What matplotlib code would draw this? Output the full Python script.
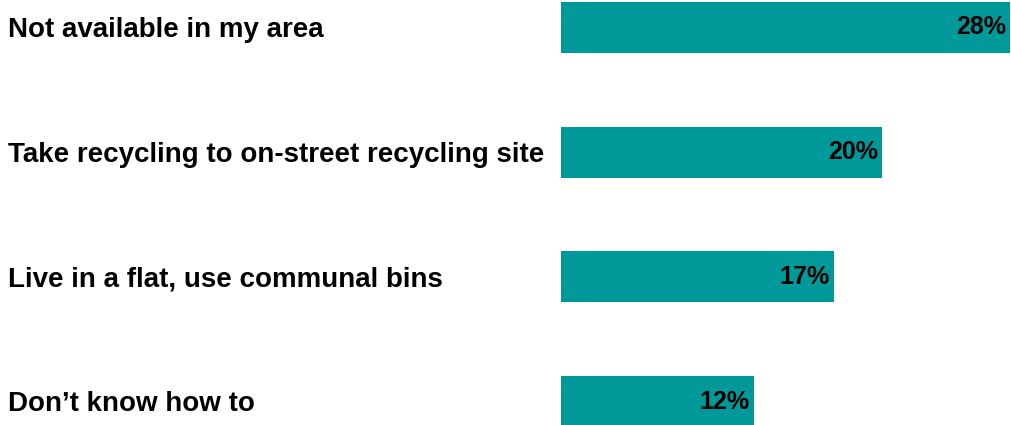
import matplotlib.pyplot as plt
from matplotlib.transforms import blended_transform_factory, offset_copy

# Reasons for not recycling (share of respondents, %)
reasons = [
    "Not available in my area",
    "Take recycling to on-street recycling site",
    "Live in a flat, use communal bins",
    "Don\u2019t know how to",
]
shares = [28, 20, 17, 12]
share_labels = ["28%", "20%", "17%", "12%"]

plt.rcParams["font.family"] = ["Liberation Sans", "DejaVu Sans"]

fig = plt.figure(figsize=(10.11, 4.25), dpi=100)
ax = fig.add_axes([561 / 1011, 0, 450 / 1011, 1])

pos = list(range(len(reasons)))
ax.barh(pos, shares, height=0.41, color="#009999")
ax.set_xlim(0, 28.05)
ax.set_ylim(3.188, -0.2205)
ax.axis("off")

# category labels at left edge of figure, value labels inside bar ends
trans = blended_transform_factory(fig.transFigure, ax.transData)
trans = offset_copy(trans, fig=fig, x=0, y=-7, units="points")
for p, name in zip(pos, reasons):
    ax.text(8 / 1011, p, name, transform=trans, ha="left", va="baseline",
            fontsize=20, fontweight="bold", color="black")

val_trans = offset_copy(ax.transData, fig=fig, x=-3, y=0, units="points")
for p, v, lab in zip(pos, shares, share_labels):
    ax.text(v, p, lab, transform=val_trans, ha="right", va="center",
            fontsize=18, fontweight="bold", color="black")

plt.savefig("out.png", dpi=100)
